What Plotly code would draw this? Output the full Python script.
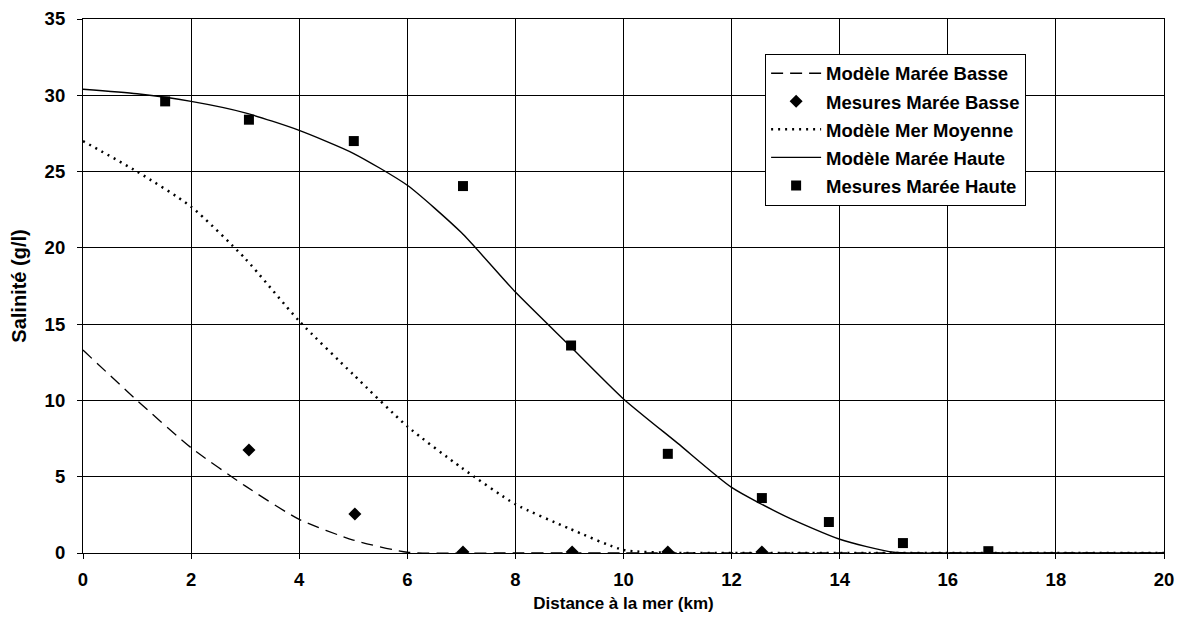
import plotly.graph_objects as go

# Model curves (salinity in g/l versus distance from the sea in km)
dist_model = [0, 1, 2, 3, 4, 5, 6, 7, 8, 9, 10, 11, 12, 13, 14, 15, 16, 17, 18, 19, 20]
basse_model = [13.3, 10.0, 6.9, 4.4, 2.2, 0.85, 0.05, 0, 0, 0, 0, 0, 0, 0, 0, 0, 0, 0, 0, 0, 0]
moyenne_model = [27.0, 25.0, 22.7, 19.3, 15.2, 11.7, 8.3, 5.6, 3.2, 1.6, 0.2, 0, 0, 0, 0, 0, 0, 0, 0, 0, 0]
haute_model = [30.4, 30.1, 29.6, 28.85, 27.7, 26.2, 24.1, 21.0, 17.1, 13.6, 10.1, 7.2, 4.3, 2.4, 0.9, 0.05, 0, 0, 0, 0, 0]

# Field measurements
dist_basse = [3.07, 5.03, 7.03, 9.05, 10.82, 12.56]
mes_basse = [6.75, 2.56, 0.07, 0.07, 0.07, 0.07]
dist_haute = [1.52, 3.07, 5.01, 7.03, 9.03, 10.82, 12.56, 13.8, 15.17, 16.75]
mes_haute = [29.6, 28.4, 27.0, 24.05, 13.6, 6.5, 3.6, 2.03, 0.65, 0.12]

x_ticks = list(range(0, 21, 2))
y_ticks = list(range(0, 36, 5))

FONT = "Liberation Sans"

fig = go.Figure()
fig.add_trace(go.Scatter(
    x=dist_model, y=basse_model, mode="lines", name="Modèle Marée Basse",
    line=dict(color="black", width=1.3, dash="12px,7px", shape="spline", smoothing=0.6),
    legendgroup="a"))
fig.add_trace(go.Scatter(
    x=dist_basse, y=mes_basse, mode="markers", name="Mesures Marée Basse",
    marker=dict(symbol="diamond", size=10, color="black"), legendgroup="b"))
fig.add_trace(go.Scatter(
    x=dist_model, y=moyenne_model, mode="lines", name="Modèle Mer Moyenne",
    line=dict(color="black", width=2.5, dash="2px,5px", shape="spline", smoothing=0.6),
    legendgroup="c"))
fig.add_trace(go.Scatter(
    x=dist_model, y=haute_model, mode="lines", name="Modèle Marée Haute",
    line=dict(color="black", width=1.4, shape="spline", smoothing=0.6),
    legendgroup="d"))
fig.add_trace(go.Scatter(
    x=dist_haute, y=mes_haute, mode="markers", name="Mesures Marée Haute",
    marker=dict(symbol="square", size=10, color="black"), legendgroup="e"))

axis_common = dict(
    showgrid=True, gridcolor="black", gridwidth=1,
    showline=True, linecolor="black", linewidth=1.2, mirror=True,
    ticks="outside", ticklen=5, tickcolor="black", tickwidth=1,
    zeroline=False, automargin=False,
    tickfont=dict(family=FONT, size=18.5, color="black", weight="bold"),
)

fig.update_xaxes(
    range=[0, 20], tickvals=x_ticks, ticktext=[str(v) for v in x_ticks],
    title=dict(text="Distance à la mer (km)", standoff=7,
               font=dict(family=FONT, size=17, color="black", weight="bold")),
    ticklabelstandoff=5,
    **axis_common)
fig.update_yaxes(
    range=[0, 35], tickvals=y_ticks, ticktext=[str(v) for v in y_ticks],
    title=dict(text="Salinité (g/l)", standoff=12,
               font=dict(family=FONT, size=20, color="black", weight="bold")),
    ticklabelstandoff=8,
    **axis_common)

fig.update_layout(
    width=1179, height=629,
    margin=dict(l=83, r=15, t=19, b=76),
    paper_bgcolor="white", plot_bgcolor="white",
    showlegend=True,
    legend=dict(
        x=0.631, y=0.935, xanchor="left", yanchor="top",
        bgcolor="white", bordercolor="black", borderwidth=1,
        font=dict(family=FONT, size=18.5, color="black", weight="bold"),
        itemwidth=50, tracegroupgap=1,
    ),
)

fig.write_html("out.html")
